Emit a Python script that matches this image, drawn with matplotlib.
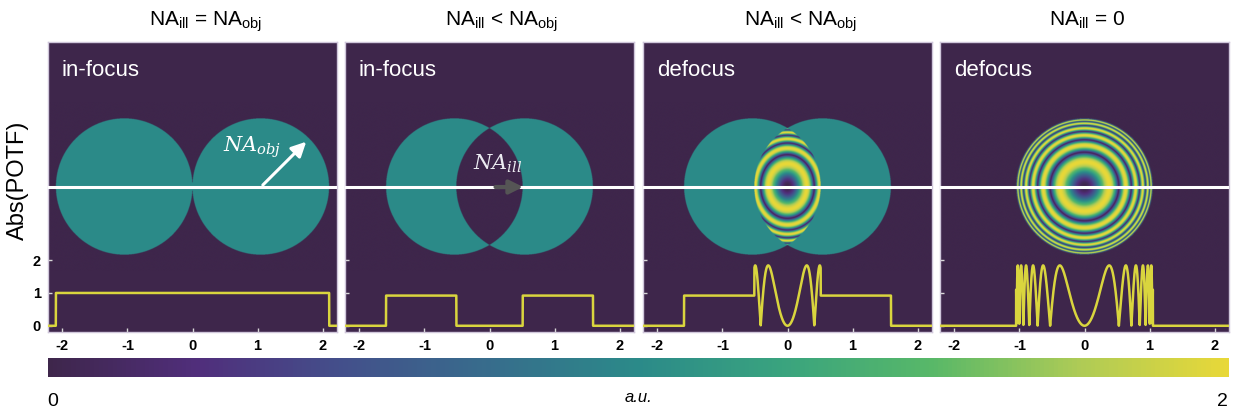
import numpy as np
import matplotlib
matplotlib.use("Agg")
import matplotlib.pyplot as plt
from matplotlib.colors import LinearSegmentedColormap, Normalize
from matplotlib.colorbar import ColorbarBase

plt.rcParams["font.family"] = ["Liberation Sans", "DejaVu Sans"]
plt.rcParams["mathtext.fontset"] = "custom"
plt.rcParams["mathtext.rm"] = "Liberation Sans"
plt.rcParams["mathtext.it"] = "DejaVu Serif:italic"

# panel content
titles = [r"NA$_{\mathrm{ill}}$ = NA$_{\mathrm{obj}}$",
          r"NA$_{\mathrm{ill}}$ < NA$_{\mathrm{obj}}$",
          r"NA$_{\mathrm{ill}}$ < NA$_{\mathrm{obj}}$",
          r"NA$_{\mathrm{ill}}$ = 0"]
states = ["in-focus", "in-focus", "defocus", "defocus"]
defocused = [False, False, True, True]

# pupil geometry (frequency units)
pupil_radius = 1.05
pupil_shift = [1.05, 0.54, 0.54, 0.0]
# defocus phase  c * (1 - sqrt(1 - (a*rho)^2))
phase_strength = 24.1
phase_na = 0.935
# elliptic stretch of the overlap pattern (x, y)
lens_stretch = [(1.0, 1.0), (1.0, 1.0), (0.78, 0.93), (1.0, 1.0)]
profile_scale = [1.0, 0.92, 0.92, 0.92]

xticks = [-2, -1, 0, 1, 2]
yticks = [0, 1, 2]

# colours sampled from the printed colour bar
cbar_colors = ["#3e264b", "#502e7b", "#43508b", "#376d8c", "#2b8a89",
               "#3aa47e", "#58b868", "#aecb56", "#e8d838"]
cmap = LinearSegmentedColormap.from_list("printed_viridis", cbar_colors)
line_color = "#d9d53e"

W, H = 1238, 419
panel_left = [48, 345, 643, 940]
panel_w, panel_top, panel_bottom = 289, 42, 332
title_x = [206, 502, 801, 1087]

xlim = (-2.22, 2.22)
ylim = (-0.19, 8.65)
yc = 4.23          # profile-axis height of the cut line
k = 1.98           # profile units per frequency unit (vertical)
half_h = 1.3


def potf(X, Y, shift, defocus, stretch):
    R2 = pupil_radius ** 2
    inL = (X + shift) ** 2 + Y ** 2 < R2
    inR = (X - shift) ** 2 + Y ** 2 < R2
    if shift == 0:
        val = np.where(inL, 1.0, 0.0)
        overlap = inL
    else:
        val = np.where(inL ^ inR, 1.0, 0.0)
        overlap = inL & inR
    if defocus:
        sx, sy = stretch
        rho = np.sqrt((X / sx) ** 2 + (Y / sy) ** 2)
        u = np.clip(phase_na * rho, 0, 0.999)
        phi = phase_strength * (1 - np.sqrt(1 - u ** 2))
        val = np.where(overlap, 2 * np.abs(np.sin(phi)), val)
    return val


gx = np.linspace(xlim[0], xlim[1], 1100)
gy = np.linspace(-half_h, half_h, 650)
GX, GY = np.meshgrid(gx, gy)
xp = np.linspace(xlim[0], xlim[1], 4000)

fig = plt.figure(figsize=(W / 100, H / 100), dpi=100)

for i in range(4):
    ax = fig.add_axes([panel_left[i] / W, 1 - panel_bottom / H,
                       panel_w / W, (panel_bottom - panel_top) / H])
    ax.set_facecolor(cmap(0.0))
    img = potf(GX, GY, pupil_shift[i], defocused[i], lens_stretch[i])
    ax.imshow(img, cmap=cmap, vmin=0, vmax=2, origin="lower", aspect="auto",
              extent=[xlim[0], xlim[1], yc - half_h * k, yc + half_h * k],
              interpolation="bilinear", zorder=1)
    ax.axhline(yc, color="white", lw=2.2, zorder=3)
    prof = potf(xp, np.zeros_like(xp), pupil_shift[i], defocused[i], lens_stretch[i])
    ax.plot(xp, prof * profile_scale[i], color=line_color, lw=1.8, zorder=4)

    ax.set_xlim(*xlim)
    ax.set_ylim(*ylim)
    ax.set_xticks(xticks)
    ax.set_xticklabels([str(t) for t in xticks])
    ax.set_yticks(yticks)
    if i == 0:
        ax.set_yticklabels([str(t) for t in yticks])
    else:
        ax.set_yticklabels([])
    ax.tick_params(direction="in", length=3, width=1, color="#d8d8d8",
                   labelsize=10.5, pad=5)
    for lab in ax.get_xticklabels() + ax.get_yticklabels():
        lab.set_fontweight("bold")
    for sp in ax.spines.values():
        sp.set_color("#cfc6da")
        sp.set_linewidth(1)

    ax.text(0.048, 0.903, states[i], transform=ax.transAxes, color="white",
            fontsize=16, va="center", ha="left")
    fig.text(title_x[i] / W, 1 - 26 / H, titles[i], ha="center", va="baseline",
             fontsize=15)

    if i == 0:
        c = pupil_shift[0]
        ang = np.deg2rad(45)
        ax.annotate("", xy=(c + pupil_radius * np.cos(ang) * 0.98,
                            yc + pupil_radius * np.sin(ang) * k * 0.98),
                    xytext=(c, yc),
                    arrowprops=dict(arrowstyle="-|>", color="white", lw=2.2,
                                    mutation_scale=22), zorder=5)
        ax.text(0.92, 5.44, r"$NA_{obj}$", color="white", fontsize=15,
                ha="center", va="center", zorder=5)
    if i == 1:
        ax.annotate("", xy=(pupil_shift[1] + 0.02, yc), xytext=(0.05, yc),
                    arrowprops=dict(arrowstyle="-|>", color="#555555", lw=3,
                                    mutation_scale=20), zorder=5)
        ax.text(0.12, 4.93, r"$NA_{ill}$", color="#ececf2", fontsize=15,
                ha="center", va="center", zorder=5)

fig.text(18 / W, 1 - 180 / H, "Abs(POTF)", rotation=90, ha="center",
         va="center", fontsize=17)

cax = fig.add_axes([48 / W, 1 - 377 / H, 1181 / W, 19 / H])
cb = ColorbarBase(cax, cmap=cmap, norm=Normalize(0, 2), orientation="horizontal")
cb.outline.set_visible(False)
cb.set_ticks([])
fig.text(53 / W, 1 - 401 / H, "0", ha="center", va="center", fontsize=14)
fig.text(1222 / W, 1 - 401 / H, "2", ha="center", va="center", fontsize=14)
fig.text(638 / W, 1 - 397 / H, "a.u.", ha="center", va="center", fontsize=12,
         style="italic")

fig.savefig("out.png", dpi=100)
